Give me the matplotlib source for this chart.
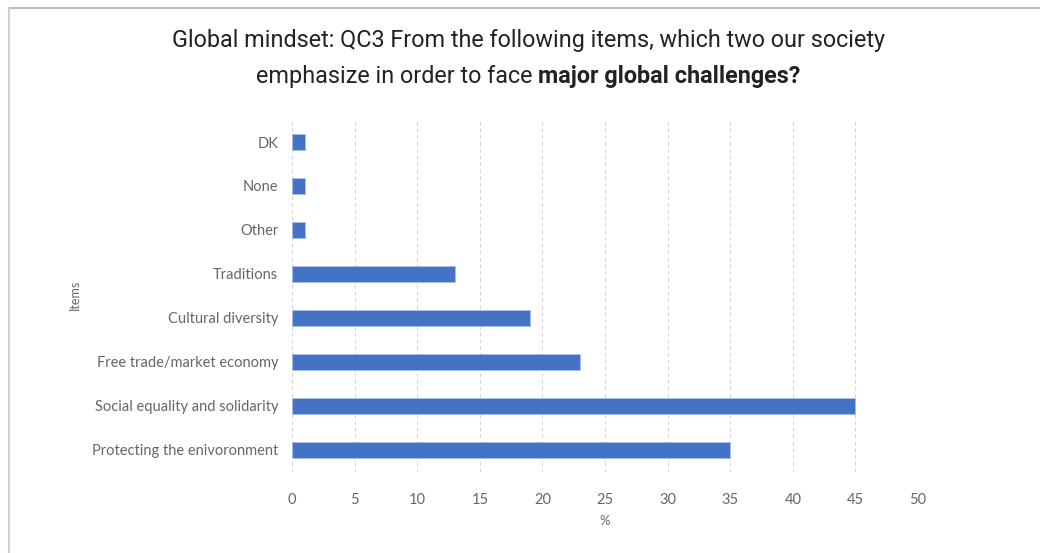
import matplotlib
matplotlib.use("Agg")
import matplotlib.pyplot as plt
from matplotlib.lines import Line2D

items = ["Protecting the enivoronment", "Social equality and solidarity",
         "Free trade/market economy", "Cultural diversity", "Traditions",
         "Other", "None", "DK"]
values = [35, 45, 23, 19, 13, 1, 1, 1]
xticks = [0, 5, 10, 15, 20, 25, 30, 35, 40, 45, 50]

FONT = "Lato"
GRAY = "#666666"

fig = plt.figure(figsize=(10.4, 5.53), dpi=100)
ax = fig.add_axes([0.2808, 0.1465, 0.6019, 0.6365])

ax.barh(range(len(items)), values, height=0.36, color="#4472C4",
        edgecolor="#a9bfe6", linewidth=0.6, zorder=3)
ax.set_xlim(0, 50)
ax.set_ylim(-0.5, 7.5)
ax.set_xticks(xticks)
ax.set_yticks(range(len(items)))
ax.set_yticklabels(items)
ax.grid(axis="x", color="#d4d4d4", ls=(0, (4, 3)), lw=0.7, zorder=0)
for s in ax.spines.values():
    s.set_visible(False)
ax.tick_params(length=0, colors=GRAY, labelsize=10.5)
ax.tick_params(axis="y", pad=10)
ax.tick_params(axis="x", pad=15)
for lab in ax.get_xticklabels() + ax.get_yticklabels():
    lab.set_fontfamily(FONT)
ax.set_xlabel("%", color=GRAY, fontsize=9.5, fontfamily=FONT, labelpad=6)
fig.text(75 / 1040, 1 - 295 / 553, "Items", rotation=90, color=GRAY,
         fontsize=9, fontfamily=FONT, ha="center", va="center")

# title, second line has a bold part
tfont = dict(fontsize=16.8, color="#222222", fontfamily="Roboto")
fig.text(528 / 1040, 1 - 40 / 553,
         "Global mindset: QC3 From the following items, which two our society",
         ha="center", va="center", **tfont)
renderer = fig.canvas.get_renderer()
p1 = fig.text(0, 1 - 77 / 553, "emphasize in order to face ", ha="left",
              va="center", **tfont)
p2 = fig.text(0, 1 - 77 / 553, "major global challenges?", ha="left",
              va="center", fontweight="bold", **tfont)
w1 = p1.get_window_extent(renderer).width / 1040
w2 = p2.get_window_extent(renderer).width / 1040
x0 = 528 / 1040 - (w1 + w2) / 2
p1.set_x(x0)
p2.set_x(x0 + w1)

# outer frame (top and left edges visible)
fig.add_artist(Line2D([9 / 1040, 1], [1 - 8 / 553, 1 - 8 / 553],
                      transform=fig.transFigure, color="#bdbdbd", lw=1.5))
fig.add_artist(Line2D([9 / 1040, 9 / 1040], [0, 1 - 8 / 553],
                      transform=fig.transFigure, color="#d0d0d0", lw=1.5))

fig.savefig("out.png", dpi=100)
